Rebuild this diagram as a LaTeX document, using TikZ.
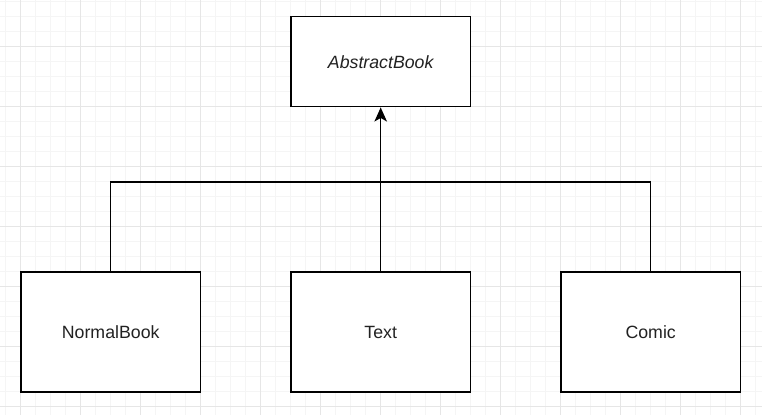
\documentclass[tikz,border=0pt]{standalone}
\usepackage{fontspec}
\setmainfont{Liberation Sans}
\usepackage{tikz}
\usetikzlibrary{arrows.meta,positioning}
\definecolor{gridminor}{HTML}{F5F5F5}
\definecolor{gridmajor}{HTML}{E6E6E6}
\definecolor{textgray}{HTML}{222222}

\tikzset{
  classbox/.style={draw=black, line width=0.9pt, fill=white, inner sep=0pt,
    minimum width=3.6cm, minimum height=2.4cm, text=textgray,
    font=\fontsize{10.1}{12}\selectfont},
  inherit/.style={draw=black, line width=0.9pt},
}

\begin{document}
\begin{tikzpicture}[x=0.02cm, y=-0.02cm]
			\useasboundingbox (0,0) rectangle (762,415);
			\fill[white] (0,0) rectangle (762,415);
			% grid
			\foreach \gx in {5.7,20.7,...,762} \draw[gridminor, line width=0.5pt] (\gx,0) -- (\gx,415);
			\foreach \gy in {1,16,...,415} \draw[gridminor, line width=0.5pt] (0,\gy) -- (762,\gy);
			\foreach \gx in {20.7,80.7,...,762} \draw[gridmajor, line width=0.5pt] (\gx,0) -- (\gx,415);
			\foreach \gy in {46,106,...,415} \draw[gridmajor, line width=0.5pt] (0,\gy) -- (762,\gy);
			% classes
			\node[classbox, minimum height=1.8cm] (abstract) at (380.7,61.7) {\itshape AbstractBook};
			\node[classbox] (normal) at (110.7,332) {NormalBook};
			\node[classbox] (text) at (380.7,332) {Text};
			\node[classbox] (comic) at (650.7,332) {Comic};
			\coordinate (hub) at (380.7,182);
			% connectors
			\draw[inherit] (normal.north) |- (hub) -| (comic.north);
			\draw[inherit, -{Stealth[length=0.28cm, width=0.25cm, inset=0.07cm]}] (text.north) -- (abstract.south);
		\end{tikzpicture}
\end{document}
